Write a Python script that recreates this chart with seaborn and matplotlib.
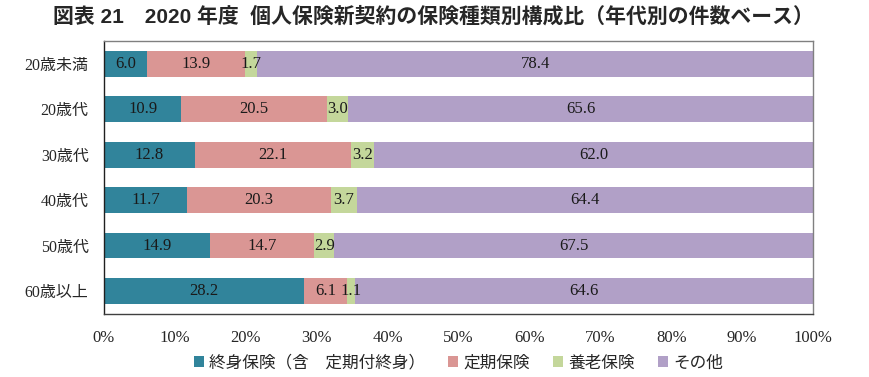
import numpy as np
import pandas as pd
import matplotlib
matplotlib.use('Agg')
import matplotlib.pyplot as plt
import seaborn as sns

# data
ages = ['20歳未満', '20歳代', '30歳代', '40歳代', '50歳代', '60歳以上']
whole_life = [6.0, 10.9, 12.8, 11.7, 14.9, 28.2]
term = [13.9, 20.5, 22.1, 20.3, 14.7, 6.1]
endowment = [1.7, 3.0, 3.2, 3.7, 2.9, 1.1]
other = [78.4, 65.6, 62.0, 64.4, 67.5, 64.6]

series_names = ['終身保険（含　定期付終身）', '定期保険', '養老保険', 'その他']
colors = ['#31849B', '#DA9694', '#C4D79B', '#B1A0C7']

sns.set_theme(style='white')
plt.rcParams['font.family'] = ['Liberation Serif', 'Noto Sans CJK JP']

df = pd.DataFrame({'age': ages, 'a': whole_life, 'b': term, 'c': endowment, 'd': other})
vals = df[['a', 'b', 'c', 'd']].to_numpy()
cum = vals.cumsum(axis=1)
starts = cum - vals

fig = plt.figure(figsize=(8.7, 3.77), dpi=100)
ax = fig.add_axes([0.1195, 0.168, 0.815, 0.723])

# draw cumulative layers, widest first so the narrower ones sit on top
for i in range(3, -1, -1):
    sns.barplot(x=cum[:, i], y=ages, color=colors[i], orient='h', width=0.57,
                saturation=1, linewidth=0, ax=ax, label=series_names[i])

for r in range(len(ages)):
    for i in range(4):
        ax.text(starts[r, i] + vals[r, i] / 2, r, f'{vals[r, i]:.1f}',
                ha='center', va='center', fontsize=12, color='#1a1a1a',
                family=['Liberation Serif', 'Noto Sans CJK JP'])

ax.set_xlim(0, 100)
ax.set_ylim(5.5, -0.5)
ax.set_xticks(np.arange(0, 101, 10))
ax.set_xticklabels([f'{t}%' for t in range(0, 101, 10)], fontsize=12)
ax.tick_params(axis='y', labelsize=11.5, pad=5)
ax.tick_params(axis='x', pad=6)
ax.set_xlabel('')
ax.set_ylabel('')
for s in ['top', 'right']:
    ax.spines[s].set_color('#808080')
ax.spines['left'].set_color('#202020')
ax.spines['bottom'].set_color('#404040')
for s in ax.spines.values():
    s.set_linewidth(1.0)

handles, labels = ax.get_legend_handles_labels()
order = [labels.index(n) for n in series_names]
ax.legend([handles[k] for k in order], series_names, loc='upper center',
          bbox_to_anchor=(0.5, -0.095), ncol=4, frameon=False,
          handlelength=0.6, handleheight=0.6, handletextpad=0.3, columnspacing=1.4,
          prop={'family': ['Noto Sans CJK JP'], 'size': 12})

fig.suptitle('図表 21　2020 年度  個人保険新契約の保険種類別構成比（年代別の件数ベース）',
             x=0.498, y=0.985, fontsize=15, fontweight='bold',
             family=['Liberation Sans', 'Noto Sans CJK JP'])

fig.savefig('out.png', dpi=100)
